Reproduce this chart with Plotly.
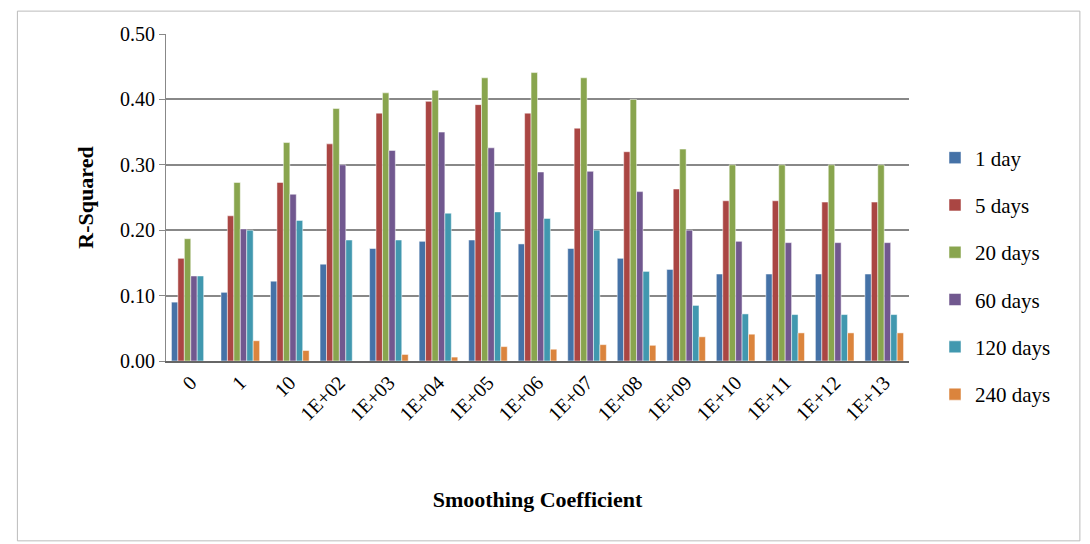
import plotly.graph_objects as go

categories = ["0", "1", "10", "1E+02", "1E+03", "1E+04", "1E+05", "1E+06", "1E+07",
              "1E+08", "1E+09", "1E+10", "1E+11", "1E+12", "1E+13"]
day1 = [0.090, 0.105, 0.122, 0.148, 0.172, 0.183, 0.185, 0.179, 0.172, 0.157, 0.140, 0.133, 0.133, 0.133, 0.133]
days5 = [0.157, 0.222, 0.273, 0.332, 0.379, 0.397, 0.392, 0.379, 0.356, 0.320, 0.263, 0.245, 0.245, 0.243, 0.243]
days20 = [0.187, 0.273, 0.334, 0.386, 0.410, 0.414, 0.433, 0.441, 0.433, 0.400, 0.324, 0.300, 0.300, 0.300, 0.300]
days60 = [0.130, 0.202, 0.255, 0.300, 0.322, 0.350, 0.326, 0.289, 0.290, 0.259, 0.200, 0.183, 0.181, 0.181, 0.181]
days120 = [0.130, 0.200, 0.215, 0.185, 0.185, 0.226, 0.228, 0.218, 0.200, 0.137, 0.085, 0.072, 0.071, 0.071, 0.071]
days240 = [0.000, 0.031, 0.016, 0.000, 0.010, 0.006, 0.022, 0.018, 0.025, 0.024, 0.037, 0.041, 0.043, 0.043, 0.043]

series = [("1 day", day1, "#4572A7"), ("5 days", days5, "#AA4643"),
          ("20 days", days20, "#89A54E"), ("60 days", days60, "#71588F"),
          ("120 days", days120, "#4198AF"), ("240 days", days240, "#DB843D")]

font = "Liberation Serif"
fig = go.Figure()
for name, vals, col in series:
    fig.add_trace(go.Bar(x=categories, y=vals, name=name, marker_color=col, legendgroup=name,
                         marker_line=dict(color="white", width=0.5)))

fig.update_layout(
    width=1090, height=544, barmode="group", bargap=0.22, bargroupgap=0,
    paper_bgcolor="white", plot_bgcolor="white",
    margin=dict(l=158, r=189, t=26, b=191),
    font=dict(family=font, size=20, color="black"),
    legend=dict(x=1.035, y=0.26, yanchor="middle", font=dict(size=21),
                itemwidth=30, tracegroupgap=17),
    xaxis=dict(title=dict(text="<b>Smoothing Coefficient</b>", font=dict(size=22), standoff=68),
               tickangle=-45, showline=True, linecolor="#666", linewidth=2, ticks="",
               tickfont=dict(size=20)),
    yaxis=dict(title=dict(text="<b>R-Squared</b>", font=dict(size=22), standoff=20),
               range=[0, 0.5], dtick=0.1, tickformat=".2f", showgrid=True,
               gridcolor="#888", gridwidth=2, showline=True, linecolor="#888",
               ticks="outside", ticklen=6, tickcolor="#888", zeroline=False),
    shapes=[dict(type="rect", xref="paper", yref="paper", x0=-0.2, x1=1.23, y0=-0.55, y1=1.07,
                 line=dict(color="#bbb", width=1))],
)
fig.write_html("out.html")
